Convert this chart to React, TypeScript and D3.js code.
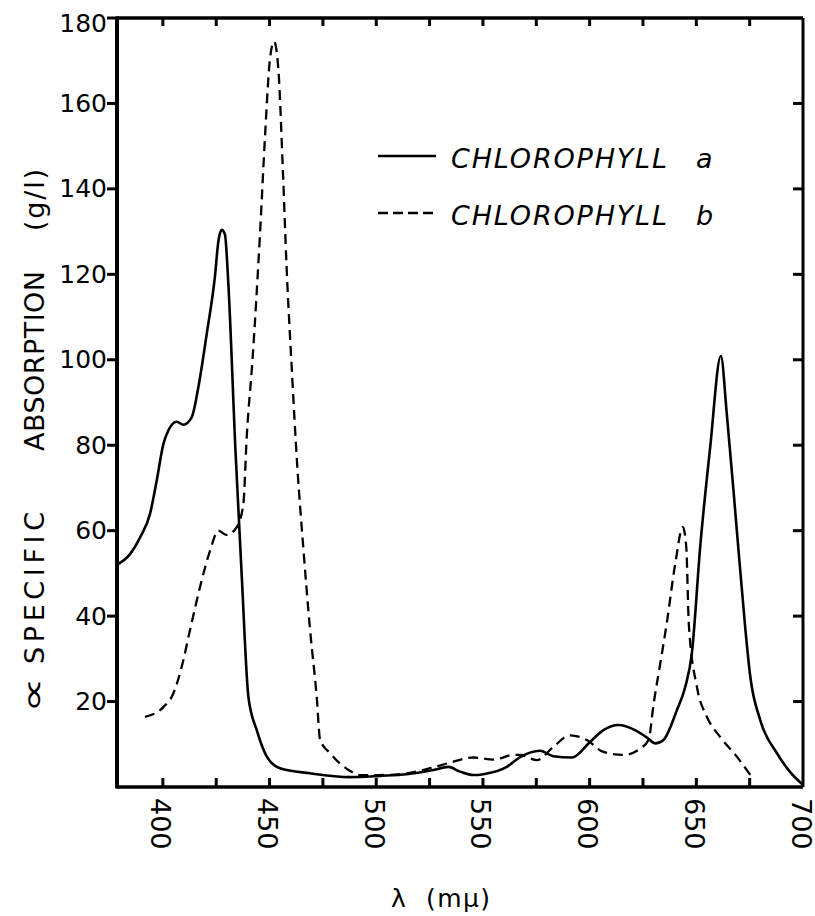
import React from "react";
import * as d3 from "d3";

// Chlorophyll a (solid) — wavelength (mμ) and specific absorption (g/l)
const waveA = [378.5, 384.6, 389.3, 394, 397.1, 400.2, 402.5, 406.5, 409.6, 413.5, 416.6, 420.5, 424.4, 426, 427.6, 429.1, 430.7, 434, 437, 440.1, 444, 448.7, 454.9, 469, 487.7, 501.8, 514.3, 526.8, 533.8, 539.3, 545.5, 550.2, 561.2, 567.4, 576.8, 583, 591.7, 600.3, 606.5, 613.5, 621.3, 627.6, 630.7, 634.6, 640.9, 644.8, 647.9, 651.8, 656.5, 661.5, 664.3, 669, 672.9, 675.3, 680, 687.8, 694, 700];
const absA = [52, 54.5, 58.4, 64, 71.7, 80.2, 83.4, 85.5, 84.8, 86.5, 93.5, 105.9, 119.5, 127.7, 130.4, 129.3, 117.6, 79, 49, 21, 13.3, 7.1, 4.4, 3.2, 2.3, 2.6, 3.0, 4.0, 4.7, 3.6, 2.8, 3.0, 4.7, 7.0, 8.5, 7.2, 6.9, 10.6, 13.3, 14.5, 13.3, 11.3, 10.2, 11, 18, 23.4, 31.2, 56.1, 79.5, 100.9, 87.3, 60, 37.4, 25.8, 15.6, 7.9, 3.5, 0.5];

// Chlorophyll b (dashed)
const waveB = [391.6, 400.2, 404.9, 408.8, 412.7, 417.4, 422.1, 426, 429.9, 434.6, 437.7, 439.3, 442, 445.5, 447.9, 450.2, 452.1, 454.1, 456.2, 458, 460.4, 463, 465.8, 469, 472.1, 473.7, 478.4, 483, 487, 492.4, 501.8, 514.3, 525.2, 533.1, 545.5, 554.9, 564.3, 567.4, 575.3, 583, 590.9, 598.7, 606.5, 615.9, 623.7, 627.6, 630, 633.1, 636.2, 640.1, 643.7, 645.3, 646.5, 650.3, 655, 661.2, 669, 675.3];
const absB = [16.4, 18.7, 21.9, 28.1, 36.7, 46.8, 55.3, 60, 59, 60.8, 66.2, 82, 100, 129.3, 152.6, 170.5, 174.5, 168.2, 144.8, 121.5, 98, 75, 56.1, 36.7, 21.1, 11, 7.9, 5.5, 4, 2.8, 2.8, 3.2, 4.4, 5.5, 6.9, 6.4, 7.5, 7.5, 6.3, 9.4, 12.1, 11, 8.2, 7.5, 9, 11, 19.5, 28.9, 38.5, 52.2, 60.8, 56.1, 38, 23.4, 16.4, 11.7, 7.1, 2.8];

const xTickLabels = [400, 450, 500, 550, 600, 650, 700];
const xMinorTicks = [425, 475, 525, 575, 625, 675];
const yTickLabels = [20, 40, 60, 80, 100, 120, 140, 160, 180];
const legendNames = ["CHLOROPHYLL", "CHLOROPHYLL"];
const legendSuffix = ["a", "b"];
const yTitleParts = ["∝", "SPECIFIC", "ABSORPTION", "(g/l)"];
const xTitleParts = ["λ", "(mμ)"];

export default function App() {
  const W = 815;
  const H = 916;
  const x = d3.scaleLinear().domain([378.5, 700]).range([117, 803]);
  const y = d3.scaleLinear().domain([0, 180]).range([787, 18]);
  const line = d3
    .line<[number, number]>()
    .x((d) => x(d[0]))
    .y((d) => y(d[1]))
    .curve(d3.curveMonotoneX);

  const dataA: [number, number][] = waveA.map((w, i) => [w, absA[i]]);
  const dataB: [number, number][] = waveB.map((w, i) => [w, absB[i]]);

  const x0 = x(378.5);
  const x1 = x(700);
  const y0 = y(0);
  const y1 = y(180);
  const font = "'DejaVu Sans', 'Liberation Sans', sans-serif";
  const allXTicks = [...xTickLabels.filter((v) => v < 700), ...xMinorTicks];

  return (
    <svg
      width={W}
      height={H}
      style={{ position: "absolute", left: 0, top: 0, display: "block", background: "#fff" }}
    >
      {/* curves */}
      <path d={line(dataA) || ""} fill="none" stroke="#000" strokeWidth={2.6} strokeLinejoin="round" />
      <path d={line(dataB) || ""} fill="none" stroke="#000" strokeWidth={2.3} strokeDasharray="10 6" />

      {/* frame */}
      <line x1={x0} y1={y1} x2={x1} y2={y1} stroke="#000" strokeWidth={3.5} />
      <line x1={x1} y1={y1} x2={x1} y2={y0} stroke="#000" strokeWidth={3} />
      <line x1={x0} y1={y0} x2={x1} y2={y0} stroke="#000" strokeWidth={3.5} />
      <line x1={x0} y1={y1 - 1.5} x2={x0} y2={y0 + 1.5} stroke="#000" strokeWidth={4} />

      {/* bottom & top ticks (inward) */}
      {allXTicks.map((v) => (
        <g key={"xt" + v}>
          <line x1={x(v)} x2={x(v)} y1={y0} y2={y0 - 9} stroke="#000" strokeWidth={3} />
          <line x1={x(v)} x2={x(v)} y1={y1} y2={y1 + 8} stroke="#000" strokeWidth={3} />
        </g>
      ))}
      {/* left ticks (outward) and right ticks (inward) */}
      {yTickLabels.map((v) => (
        <g key={"yt" + v}>
          <line x1={x0 - 10} x2={x0} y1={y(v)} y2={y(v)} stroke="#000" strokeWidth={3} />
          {v < 180 && <line x1={x1 - 10} x2={x1} y1={y(v)} y2={y(v)} stroke="#000" strokeWidth={3} />}
        </g>
      ))}

      {/* y tick labels */}
      {yTickLabels.map((v) => (
        <text
          key={"yl" + v}
          x={107}
          y={y(v) + (v === 180 ? 5 : 0)}
          textAnchor="end"
          dominantBaseline="central"
          fontFamily={font}
          fontSize={25}
          fill="#000"
        >
          {v}
        </text>
      ))}

      {/* x tick labels, rotated */}
      {xTickLabels.map((v) => (
        <text
          key={"xl" + v}
          transform={`translate(${x(v) - 2},${798}) rotate(90)`}
          textAnchor="start"
          dominantBaseline="central"
          fontFamily={font}
          fontSize={27}
          fill="#000"
        >
          {v}
        </text>
      ))}

      {/* x title */}
      <text x={391} y={907} fontFamily={font} fontSize={25} fill="#000">
        {xTitleParts[0]}
      </text>
      <text x={426} y={907} fontFamily={font} fontSize={25} fill="#000" textLength={64} lengthAdjust="spacing">
        {xTitleParts[1]}
      </text>

      {/* y title, rotated */}
      <g transform="translate(44,0)">
        <text transform="translate(0,713) rotate(-90)" fontFamily={font} fontSize={32} fill="#000" textLength={36} lengthAdjust="spacingAndGlyphs">
          {yTitleParts[0]}
        </text>
        <text transform="translate(0,664) rotate(-90)" fontFamily={font} fontSize={27} fill="#000" textLength={152} lengthAdjust="spacing">
          {yTitleParts[1]}
        </text>
        <text transform="translate(0,451) rotate(-90)" fontFamily={font} fontSize={27} fill="#000" textLength={180} lengthAdjust="spacing">
          {yTitleParts[2]}
        </text>
        <text transform="translate(0,231) rotate(-90)" fontFamily={font} fontSize={27} fill="#000" textLength={62} lengthAdjust="spacing">
          {yTitleParts[3]}
        </text>
      </g>

      {/* legend */}
      <line x1={378} x2={436} y1={156} y2={156} stroke="#000" strokeWidth={2.6} />
      <line x1={378} x2={434} y1={213} y2={213} stroke="#000" strokeWidth={2.3} strokeDasharray="10 5" />
      {legendNames.map((n, i) => (
        <g key={"lg" + i}>
          <text
            x={451}
            y={168 + i * 57}
            fontFamily={font}
            fontStyle="italic"
            fontSize={27}
            fill="#000"
            textLength={216}
            lengthAdjust="spacing"
          >
            {n}
          </text>
          <text x={696} y={168 + i * 57} fontFamily={font} fontStyle="italic" fontSize={27} fill="#000">
            {legendSuffix[i]}
          </text>
        </g>
      ))}
    </svg>
  );
}
